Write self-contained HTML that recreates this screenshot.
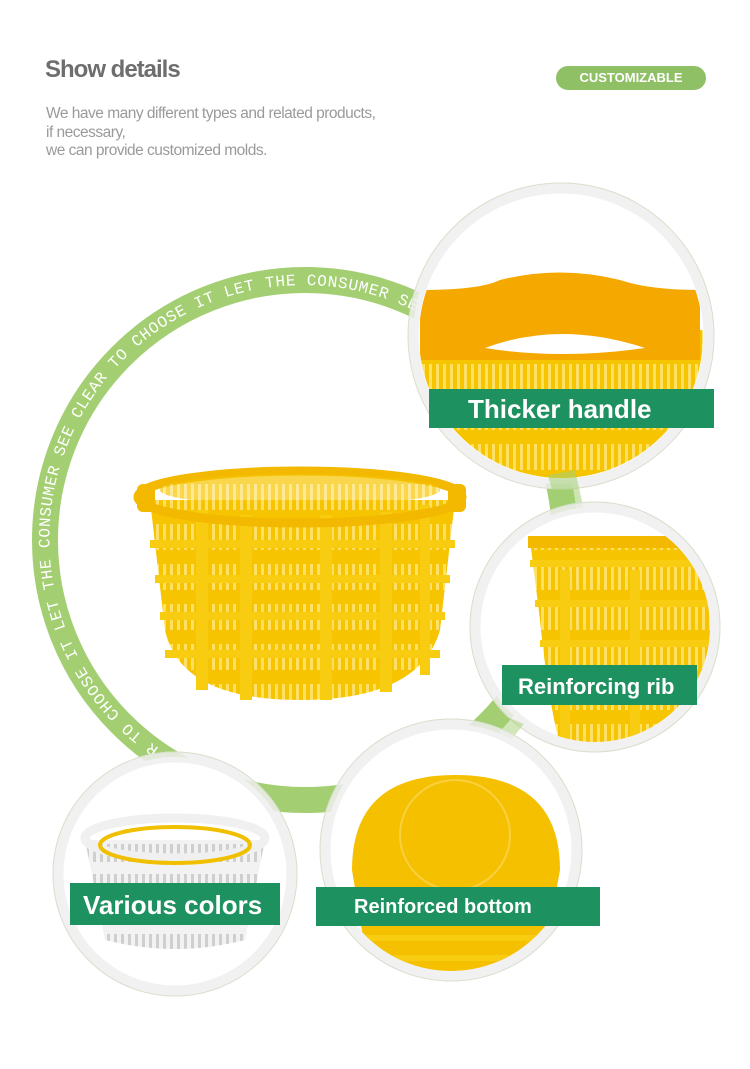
<!DOCTYPE html>
<html><head><meta charset="utf-8">
<style>
html,body{margin:0;padding:0;background:#fff;}
body{width:750px;height:1069px;position:relative;overflow:hidden;font-family:"Liberation Sans",sans-serif;}
.t{position:absolute;left:45px;top:56px;font-size:24px;font-weight:bold;color:#6e6e6e;letter-spacing:-1px;}
.p{position:absolute;left:46px;top:105px;font-size:15.5px;line-height:18.5px;color:#9a9a9a;letter-spacing:-0.5px;}
.pill{position:absolute;left:556px;top:66px;width:150px;height:24px;border-radius:12px;background:#8fc065;color:#fff;font-weight:bold;font-size:13px;line-height:24px;text-align:center;}
svg{position:absolute;left:0;top:0;}
</style></head><body>
<div class="t">Show details</div>
<div class="p">We have many different types and related products,<br>if necessary,<br>we can provide customized molds.</div>
<div class="pill">CUSTOMIZABLE</div>
<svg width="750" height="1069" viewBox="0 0 750 1069">
<defs>
<pattern id="sl" width="7" height="40" patternUnits="userSpaceOnUse">
<rect width="7" height="40" fill="#f6c400"/><rect x="2" y="4" width="3" height="26" fill="#ffe066"/>
</pattern>
<pattern id="wsl" width="7" height="30" patternUnits="userSpaceOnUse">
<rect width="7" height="30" fill="#f2f2f2"/><rect x="2" y="4" width="3" height="18" fill="#cfcfcf"/>
</pattern>
<clipPath id="c1"><circle cx="561" cy="336" r="142"/></clipPath>
<clipPath id="c2"><circle cx="595" cy="627" r="115"/></clipPath>
<clipPath id="c3"><circle cx="451" cy="850" r="121"/></clipPath>
<clipPath id="c4"><circle cx="175" cy="874" r="112"/></clipPath>
<path id="arc" d="M159,748 A254,254 0 0 1 432,320"/>
</defs>
<circle cx="305" cy="540" r="260" fill="none" stroke="#a3cf72" stroke-width="26"/>
<text font-family="Liberation Mono,monospace" font-size="16" fill="#fff"><textPath href="#arc" textLength="770" lengthAdjust="spacing">R TO CHOOSE IT LET THE CONSUMER SEE CLEAR TO CHOOSE IT LET THE CONSUMER SEE</textPath></text>
<g>
<path d="M150,500 L165,630 Q180,700 300,700 Q420,700 440,630 L455,500 Z" fill="url(#sl)"/>
<g fill="#f8cc10">
<rect x="150" y="540" width="305" height="8"/><rect x="155" y="575" width="295" height="8"/><rect x="160" y="612" width="285" height="8"/><rect x="165" y="650" width="275" height="8"/>
<rect x="196" y="510" width="12" height="180"/><rect x="240" y="515" width="12" height="185"/><rect x="320" y="515" width="12" height="185"/><rect x="380" y="512" width="12" height="180"/><rect x="420" y="505" width="10" height="170"/>
</g>
<ellipse cx="300" cy="497" rx="162" ry="26" fill="none" stroke="#f3b800" stroke-width="9"/>
<ellipse cx="300" cy="490" rx="140" ry="16" fill="url(#sl)" opacity="0.7"/>
<rect x="137" y="484" width="18" height="28" rx="6" fill="#f3b800"/><rect x="448" y="484" width="18" height="28" rx="6" fill="#f3b800"/>
</g>
<g>
<circle cx="561" cy="336" r="148" fill="#fff" stroke="#eeeeee" stroke-width="11" stroke-opacity="0.85"/>
<circle cx="561" cy="336" r="153" fill="none" stroke="#d9dfcc" stroke-width="1"/>
<g clip-path="url(#c1)">
<rect x="420" y="330" width="290" height="160" fill="url(#sl)"/>
<path d="M420,290 Q480,290 500,280 Q560,265 620,280 Q650,290 700,290 L700,360 L420,360 Z" fill="#f5a800"/>
<path d="M485,348 Q560,320 645,348 Q560,360 485,348 Z" fill="#fff"/>
</g>
<rect x="429" y="389" width="285" height="39" fill="#1d9160"/>
<text x="468" y="418" font-size="26" font-weight="bold" fill="#fff">Thicker handle</text>
</g>
<path d="M548,475 L575,470 L585,515 L560,520 Z" fill="#a3cf72" opacity="0.55"/>
<g>
<circle cx="595" cy="627" r="120" fill="#fff" stroke="#eeeeee" stroke-width="11" stroke-opacity="0.85"/>
<circle cx="595" cy="627" r="125" fill="none" stroke="#d9dfcc" stroke-width="1"/>
<g clip-path="url(#c2)">
<path d="M530,540 L720,540 L720,745 L560,745 Q548,700 540,620 Z" fill="url(#sl)"/>
<g fill="#f8cc10"><rect x="530" y="560" width="200" height="7"/><rect x="535" y="600" width="200" height="7"/><rect x="540" y="640" width="200" height="7"/><rect x="560" y="570" width="10" height="180"/><rect x="630" y="570" width="10" height="180"/></g>
<rect x="528" y="536" width="200" height="12" fill="#f3b800"/>
</g>
<rect x="502" y="665" width="195" height="40" fill="#1d9160"/>
<text x="518" y="694" font-size="22" font-weight="bold" fill="#fff">Reinforcing rib</text>
</g>
<path d="M480,738 L500,714 L524,724 L506,746 Z" fill="#a3cf72" opacity="0.5"/>
<g>
<circle cx="451" cy="850" r="126" fill="#fff" stroke="#eeeeee" stroke-width="11" stroke-opacity="0.85"/>
<circle cx="451" cy="850" r="131" fill="none" stroke="#d9dfcc" stroke-width="1"/>
<g clip-path="url(#c3)">
<path d="M352,870 Q352,775 455,775 Q560,775 560,870 L540,980 L370,980 Z" fill="#f5c000"/>
<circle cx="455" cy="835" r="55" fill="none" stroke="#f8d040" stroke-width="2"/>
<g fill="#f8cc10"><rect x="360" y="935" width="190" height="6"/><rect x="365" y="955" width="180" height="6"/></g>
</g>
<rect x="316" y="887" width="284" height="39" fill="#1d9160"/>
<text x="354" y="913" font-size="20" font-weight="bold" fill="#fff">Reinforced bottom</text>
</g>
<g>
<circle cx="175" cy="874" r="117" fill="#fff" stroke="#eeeeee" stroke-width="11" stroke-opacity="0.85"/>
<circle cx="175" cy="874" r="122" fill="none" stroke="#d9dfcc" stroke-width="1"/>
<g clip-path="url(#c4)">
<path d="M85,840 L265,840 L245,940 Q175,958 105,940 Z" fill="url(#wsl)"/>
<ellipse cx="175" cy="838" rx="90" ry="20" fill="none" stroke="#f0f0f0" stroke-width="9"/>
<ellipse cx="175" cy="845" rx="75" ry="18" fill="none" stroke="#f0c000" stroke-width="4"/>
</g>
<rect x="70" y="883" width="210" height="42" fill="#1d9160"/>
<text x="83" y="914" font-size="26" font-weight="bold" fill="#fff">Various colors</text>
</g>
</svg>
</body></html>
